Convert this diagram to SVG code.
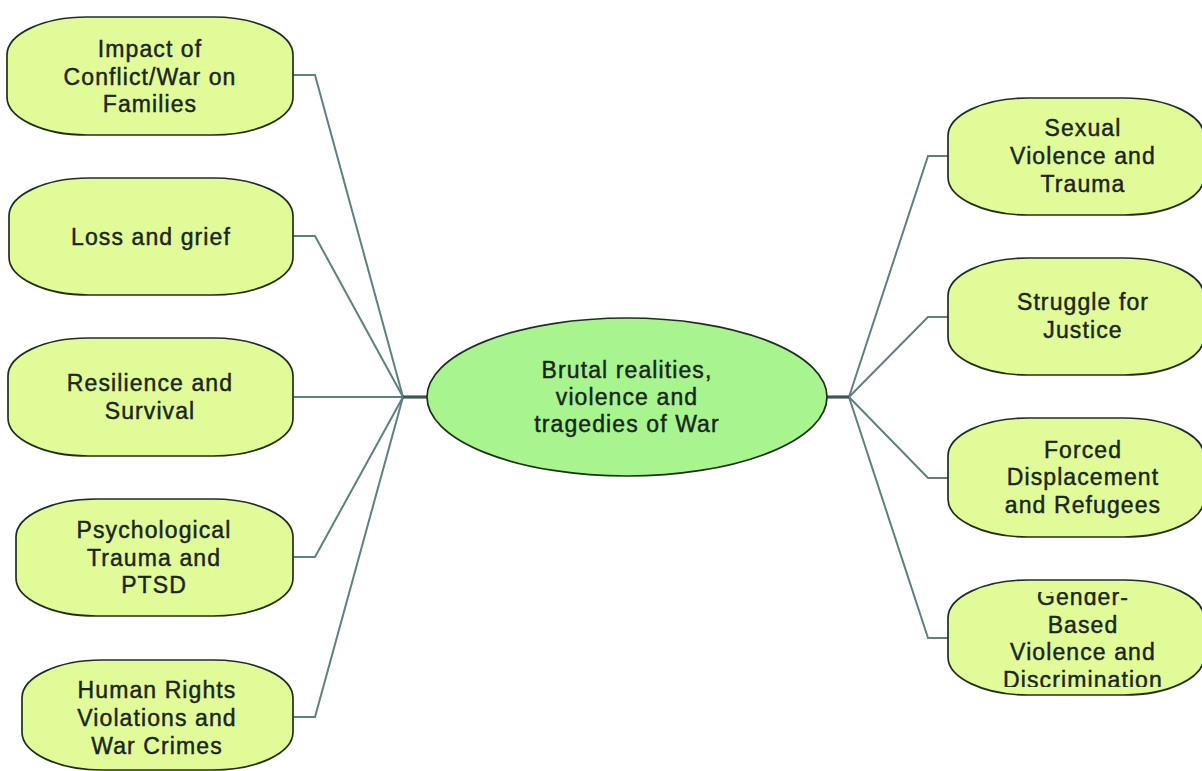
<svg xmlns="http://www.w3.org/2000/svg" width="1202" height="771" viewBox="0 0 1202 771">
  <style>
    .node { fill: #e2fb99; stroke: #1f2f1f; stroke-width: 1.7; }
    .core { fill: #a8f590; stroke: #1f2f1f; stroke-width: 1.7; }
    .lbl { font-family: "Liberation Sans", Arial, sans-serif; font-size: 23px; letter-spacing: 1.1px; fill: #1a261a; stroke: #1a261a; stroke-width: 0.45; text-anchor: middle; }
    .link { fill: none; stroke: #5f7f80; stroke-width: 2; }
    .stem { fill: none; stroke: #3d5555; stroke-width: 3.2; }
  </style>
  <defs>
    <clipPath id="clipGender">
      <rect x="948" y="592" width="260" height="95"/>
    </clipPath>
  </defs>
  <rect width="1202" height="771" fill="#ffffff"/>

  <g id="connectors">
    <!-- left branch lines into the left hub -->
    <polyline class="link" points="293,75 315,75 403,397"/>
    <polyline class="link" points="293,236 315,236 403,397"/>
    <polyline class="link" points="293,397 403,397"/>
    <polyline class="link" points="293,557 315,557 403,397"/>
    <polyline class="link" points="293,717 315,717 403,397"/>
    <!-- right branch lines out of the right hub -->
    <polyline class="link" points="849,397 928,156 948,156"/>
    <polyline class="link" points="849,397 928,317 948,317"/>
    <polyline class="link" points="849,397 928,478 948,478"/>
    <polyline class="link" points="849,397 928,638 948,638"/>
    <!-- stems from the central topic to each hub -->
    <line class="stem" x1="403" y1="397" x2="428" y2="397"/>
    <line class="stem" x1="826" y1="397" x2="849" y2="397"/>
  </g>

  <g id="center">
    <ellipse class="core" cx="627" cy="397" rx="200" ry="79"/>
    <text class="lbl"><tspan x="627" y="378">Brutal realities,</tspan><tspan x="627" y="405">violence and</tspan><tspan x="627" y="432">tragedies of War</tspan></text>
  </g>

  <g id="families">
    <rect class="node" x="7" y="17" width="286" height="118" rx="80" ry="38"/>
    <text class="lbl"><tspan x="150" y="57">Impact of</tspan><tspan x="150" y="85">Conflict/War on</tspan><tspan x="150" y="112">Families</tspan></text>
  </g>

  <g id="loss">
    <rect class="node" x="9" y="178" width="284" height="117" rx="80" ry="38"/>
    <text class="lbl" x="151" y="245">Loss and grief</text>
  </g>

  <g id="resilience">
    <rect class="node" x="8" y="338" width="285" height="118" rx="80" ry="38"/>
    <text class="lbl"><tspan x="150" y="391">Resilience and</tspan><tspan x="150" y="419">Survival</tspan></text>
  </g>

  <g id="trauma">
    <rect class="node" x="16" y="499" width="277" height="117" rx="80" ry="38"/>
    <text class="lbl"><tspan x="154" y="538">Psychological</tspan><tspan x="154" y="566">Trauma and</tspan><tspan x="154" y="593">PTSD</tspan></text>
  </g>

  <g id="rights">
    <rect class="node" x="22" y="660" width="271" height="110" rx="80" ry="38"/>
    <text class="lbl"><tspan x="157" y="698">Human Rights</tspan><tspan x="157" y="726">Violations and</tspan><tspan x="157" y="754">War Crimes</tspan></text>
  </g>

  <g id="sexual">
    <rect class="node" x="948" y="98" width="256" height="117" rx="80" ry="38"/>
    <text class="lbl"><tspan x="1083" y="136">Sexual</tspan><tspan x="1083" y="164">Violence and</tspan><tspan x="1083" y="192">Trauma</tspan></text>
  </g>

  <g id="justice">
    <rect class="node" x="948" y="258" width="256" height="117" rx="80" ry="38"/>
    <text class="lbl"><tspan x="1083" y="310">Struggle for</tspan><tspan x="1083" y="338">Justice</tspan></text>
  </g>

  <g id="displacement">
    <rect class="node" x="948" y="418" width="256" height="119" rx="80" ry="38"/>
    <text class="lbl"><tspan x="1083" y="458">Forced</tspan><tspan x="1083" y="485">Displacement</tspan><tspan x="1083" y="513">and Refugees</tspan></text>
  </g>

  <g id="gender">
    <rect class="node" x="948" y="580" width="256" height="115" rx="80" ry="38"/>
    <text class="lbl" clip-path="url(#clipGender)"><tspan x="1083" y="605">Gender-</tspan><tspan x="1083" y="633">Based</tspan><tspan x="1083" y="660">Violence and</tspan><tspan x="1083" y="688">Discrimination</tspan></text>
  </g>
</svg>
